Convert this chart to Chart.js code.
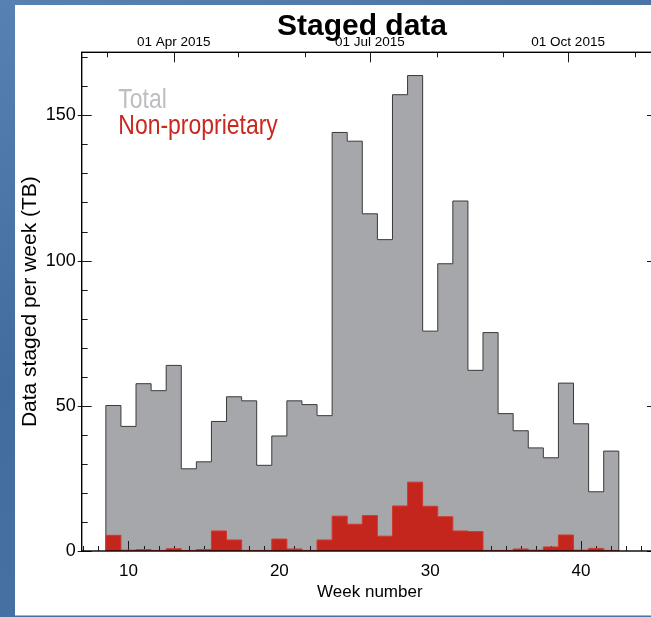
<!DOCTYPE html>
<html>
<head>
<meta charset="utf-8">
<script src="https://cdn.jsdelivr.net/npm/chart.js@4.4.1/dist/chart.umd.min.js"></script>
<style>
html, body { margin: 0; padding: 0; width: 651px; height: 617px; overflow: hidden; }
body { position: relative; background: linear-gradient(160deg, #5781b0 0%, #416c9d 45%, #4a75a6 100%); }
#panel { position: absolute; left: 15px; top: 5px; width: 650px; height: 610px; background: #fff; border-bottom: 1px solid #aab3c0; }
canvas { position: absolute; left: 0; top: 0; }
</style>
</head>
<body>
<div id="panel"><canvas id="staged" width="650" height="610"></canvas></div>
<script>
// weekly staged volume (TB), one value per week
var weeks = [9, 10, 11, 12, 13, 14, 15, 16, 17, 18, 19, 20, 21, 22, 23, 24, 25,
             26, 27, 28, 29, 30, 31, 32, 33, 34, 35, 36, 37, 38, 39, 40, 41, 42];
var totalTB = [50.1, 42.9, 57.6, 55.2, 63.9, 28.3, 30.7, 44.6, 53.1, 51.7, 29.5, 39.6,
               51.7, 50.4, 46.6, 144.1, 141.1, 116.1, 107.2, 157.1, 163.7, 75.7, 98.9,
               120.5, 62.2, 75.2, 47.3, 41.4, 35.5, 32.1, 57.8, 43.8, 20.4, 34.4];
var nonPropTB = [5.4, 0.3, 0.5, 0.2, 0.8, 0.2, 0.5, 6.9, 3.8, 0.2, 0.2, 4.1,
                 0.7, 0.2, 3.8, 12.0, 9.2, 12.2, 5.1, 15.5, 23.7, 15.4, 11.8,
                 6.9, 6.7, 0.2, 0.2, 0.7, 0.3, 1.4, 5.5, 0.3, 0.9, 0.2];

var weekTicks = [10, 20, 30, 40];
var yTicks = [0, 50, 100, 150];
// top axis: dates, placed at day-of-year / 7
var dateLabels = ['01 Apr 2015', '01 Jul 2015', '01 Oct 2015'];
var dateDays = [91, 182, 274];
var monthDays = [60, 121, 152, 213, 244, 305];   // unlabelled month starts

var weekMin = 6.9, weekMax = 45.1, yMax = 171.7;

var legendItems = [
    {text: 'Total', color: '#bdbdc2'},
    {text: 'Non-proprietary', color: '#c8281e'}
];

// histogram outline: left edge of each bin, closed down to zero at both ends
function histPoints(vals) {
    var pts = [{x: weeks[0] - 0.5, y: 0}];
    for (var i = 0; i < weeks.length; i++) {
        pts.push({x: weeks[i] - 0.5, y: vals[i]});
    }
    var last = weeks.length - 1;
    pts.push({x: weeks[last] + 0.5, y: vals[last]});
    pts.push({x: weeks[last] + 0.5, y: 0});
    return pts;
}

function hasNarrow(ctx) {
    ctx.font = '20px "Liberation Sans Narrow"';
    var wn = ctx.measureText('Non-proprietary').width;
    ctx.font = '20px "Liberation Sans"';
    var wr = ctx.measureText('Non-proprietary').width;
    return wn < wr * 0.9;
}

var NARROW = "'Liberation Sans Narrow', 'Liberation Sans', Arial, sans-serif";
var REGULAR = "'Liberation Sans', Arial, sans-serif";

// IDL style frame: ticks point inwards, minor ones shorter
var idlAxes = {
    id: 'idlAxes',
    afterDatasetDraw: function(chart, args) {
        if (args.index !== 0) return;   // after the grey histogram, under the red one
        var ctx = chart.ctx, a = chart.chartArea;
        var sx = chart.scales.x, sx2 = chart.scales.x2, sy = chart.scales.y;
        ctx.save();
        ctx.strokeStyle = '#1a1a1a';
        ctx.lineWidth = 1;
        ctx.beginPath();
        for (var w = Math.ceil(weekMin); w <= weekMax; w++) {
            var px = Math.round(sx.getPixelForValue(w)) + 0.5;
            var len = (w % 10 === 0) ? 10 : 5;
            ctx.moveTo(px, a.bottom);
            ctx.lineTo(px, a.bottom - len);
        }
        dateDays.forEach(function(d) {
            var px = Math.round(sx2.getPixelForValue(d / 7)) + 0.5;
            ctx.moveTo(px, a.top);
            ctx.lineTo(px, a.top + 10);
        });
        monthDays.forEach(function(d) {
            var px = Math.round(sx2.getPixelForValue(d / 7)) + 0.5;
            ctx.moveTo(px, a.top);
            ctx.lineTo(px, a.top + 5);
        });
        for (var v = 0; v <= yMax; v += 10) {
            var py = Math.round(sy.getPixelForValue(v)) + 0.5;
            var major = (v % 50 === 0);
            ctx.moveTo(a.left - (major ? 4 : 0), py);
            ctx.lineTo(a.left + (major ? 10 : 6), py);
            ctx.moveTo(a.right - (major ? 11 : 6), py);
            ctx.lineTo(a.right, py);
        }
        ctx.stroke();
        ctx.restore();
    },
    afterDatasetsDraw: function(chart) {
        var ctx = chart.ctx, a = chart.chartArea;
        ctx.save();
        ctx.strokeStyle = '#000';
        ctx.lineWidth = 1.4;
        ctx.strokeRect(a.left, a.top, a.right - a.left, a.bottom - a.top);
        ctx.restore();
    },
    afterDraw: function(chart) {
        var ctx = chart.ctx, a = chart.chartArea;
        ctx.save();
        ctx.fillStyle = '#000';
        ctx.textAlign = 'center';
        ctx.textBaseline = 'alphabetic';
        ctx.font = 'bold 30px ' + REGULAR;
        ctx.fillText('Staged data', 347, 30);

        var narrow = hasNarrow(ctx);
        ctx.textAlign = 'left';
        legendItems.forEach(function(item, i) {
            var x = a.left + 36.6, y = a.top + 55.4 + i * 26.6;
            ctx.fillStyle = item.color;
            if (narrow) {
                ctx.font = '28px "Liberation Sans Narrow"';
                ctx.fillText(item.text, x, y);
            } else {
                ctx.font = '28px ' + REGULAR;
                ctx.save();
                ctx.translate(x, y);
                ctx.scale(0.82, 1);
                ctx.fillText(item.text, 0, 0);
                ctx.restore();
            }
        });
        ctx.restore();
    }
};

var chart = new Chart(document.getElementById('staged'), {
    type: 'line',
    data: {
        datasets: [{
            label: 'Total',
            data: histPoints(totalTB),
            stepped: 'before',
            fill: 'origin',
            backgroundColor: '#a6a7ab',
            borderColor: '#3a3a3a',
            borderWidth: 1,
            pointRadius: 0,
            order: 2
        }, {
            label: 'Non-proprietary',
            data: histPoints(nonPropTB),
            stepped: 'before',
            fill: 'origin',
            backgroundColor: '#c4261d',
            borderColor: '#d0392e',
            borderWidth: 1,
            pointRadius: 0,
            order: 1
        }]
    },
    options: {
        responsive: false,
        animation: false,
        layout: {padding: {left: 0, right: 7, top: 27.3, bottom: 0}},
        plugins: {
            legend: {display: false},
            tooltip: {enabled: false},
            title: {display: false}
        },
        scales: {
            x: {
                type: 'linear',
                position: 'bottom',
                min: weekMin,
                max: weekMax,
                afterBuildTicks: function(s) { s.ticks = weekTicks.map(function(v) { return {value: v}; }); },
                afterFit: function(s) { s.height = 64; },
                grid: {display: false, drawTicks: false},
                border: {display: false},
                ticks: {padding: 10, color: '#000', maxRotation: 0, autoSkip: false, font: {family: REGULAR, size: 17}},
                title: {display: true, text: 'Week number', color: '#000', font: {family: REGULAR, size: 17}, padding: {top: 0, bottom: 12}}
            },
            x2: {
                type: 'linear',
                axis: 'x',
                position: 'top',
                min: weekMin,
                max: weekMax,
                afterBuildTicks: function(s) { s.ticks = dateDays.map(function(d) { return {value: d / 7}; }); },
                afterFit: function(s) { s.height = 20; },
                grid: {display: false, drawTicks: false},
                border: {display: false},
                ticks: {
                    padding: 2, color: '#000', maxRotation: 0, autoSkip: false,
                    font: {family: REGULAR, size: 13.5},
                    callback: function(v, i) { return dateLabels[i]; }
                }
            },
            y: {
                type: 'linear',
                position: 'left',
                min: 0,
                max: yMax,
                afterBuildTicks: function(s) { s.ticks = yTicks.map(function(v) { return {value: v}; }); },
                afterFit: function(s) { s.width = 66.7; },
                grid: {display: false, drawTicks: false},
                border: {display: false},
                ticks: {padding: 6, color: '#000', autoSkip: false, font: {family: NARROW, size: 18}},
                title: {display: true, text: 'Data staged per week (TB)', color: '#000', font: {family: REGULAR, size: 21}, padding: {top: 2.4, bottom: 0}}
            }
        }
    },
    plugins: [idlAxes]
});
</script>
</body>
</html>
